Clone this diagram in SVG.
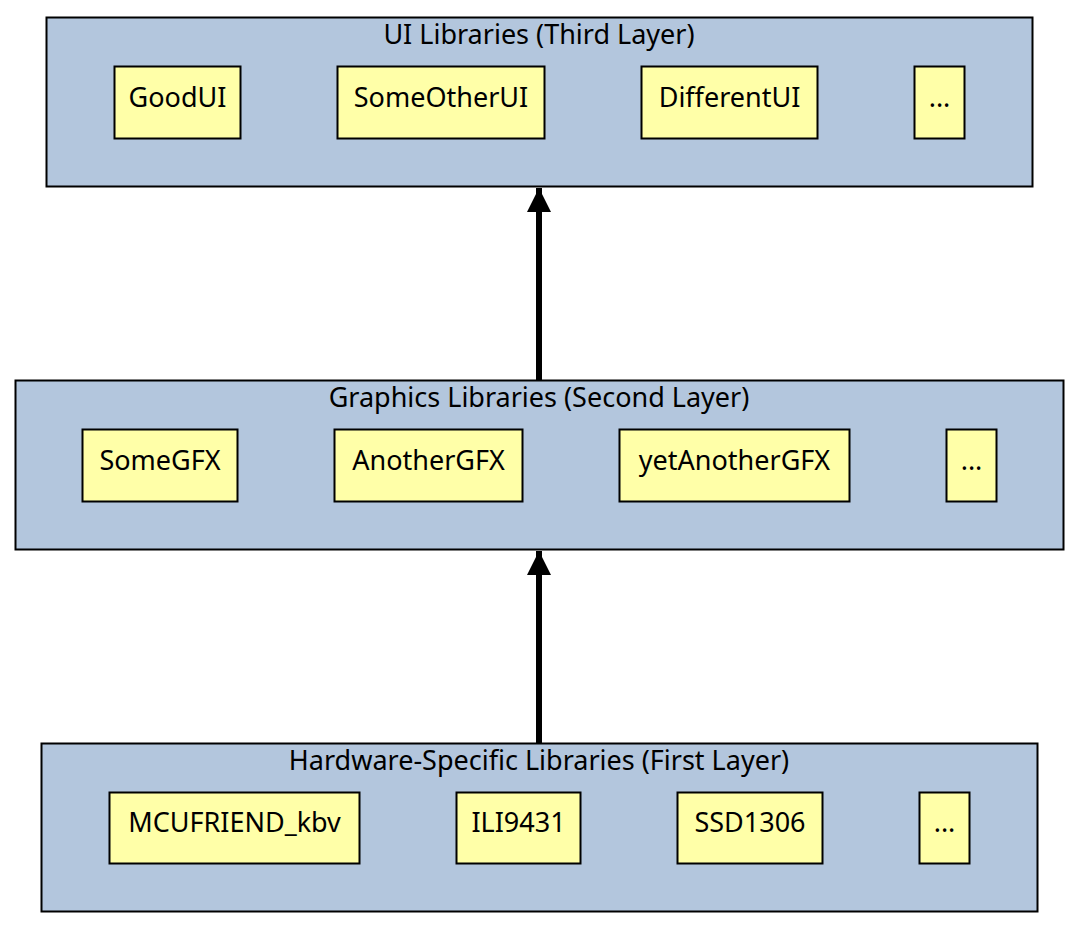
<svg xmlns="http://www.w3.org/2000/svg" width="1080" height="931" viewBox="0 0 1080 931">
<style>
.layer{fill:#b3c6dd;stroke:#000;stroke-width:2}
.node{fill:#ffffa8;stroke:#000;stroke-width:2}
text{font-family:"Noto Sans","Open Sans",sans-serif;font-size:27px;fill:#000;text-anchor:middle}
.conn{stroke:#000;stroke-width:6;fill:none}
</style>
<defs>
<marker id="ah" markerUnits="userSpaceOnUse" markerWidth="26" markerHeight="26" refX="24" refY="12" orient="auto">
<path d="M0,0 L24,12 L0,24 Z" fill="#000"/>
</marker>
</defs>
<rect width="1080" height="931" fill="#fff"/>
<g id="layer3">
<rect class="layer" x="46.5" y="17.5" width="986" height="169"/>
<text x="539" y="44">UI Libraries (Third Layer)</text>
</g>
<g id="goodui"><rect class="node" x="114.5" y="66.5" width="126" height="72"/><text x="177.5" y="107">GoodUI</text></g>
<g id="someotherui"><rect class="node" x="337.5" y="66.5" width="207" height="72"/><text x="441" y="107">SomeOtherUI</text></g>
<g id="differentui"><rect class="node" x="641.5" y="66.5" width="176" height="72"/><text x="729.5" y="107">DifferentUI</text></g>
<g id="ui-more"><rect class="node" x="914.5" y="66.5" width="50" height="72"/><text x="939.5" y="107">...</text></g>
<g id="layer2">
<rect class="layer" x="15.5" y="380.5" width="1048" height="169"/>
<text x="539" y="407">Graphics Libraries (Second Layer)</text>
</g>
<g id="somegfx"><rect class="node" x="82.5" y="429.5" width="155" height="72"/><text x="160" y="470">SomeGFX</text></g>
<g id="anothergfx"><rect class="node" x="334.5" y="429.5" width="188" height="72"/><text x="428.5" y="470">AnotherGFX</text></g>
<g id="yetanothergfx"><rect class="node" x="619.5" y="429.5" width="230" height="72"/><text x="734.5" y="470">yetAnotherGFX</text></g>
<g id="gfx-more"><rect class="node" x="946.5" y="429.5" width="50" height="72"/><text x="971.5" y="470">...</text></g>
<g id="layer1">
<rect class="layer" x="41.5" y="743.5" width="996" height="168"/>
<text x="539" y="770">Hardware-Specific Libraries (First Layer)</text>
</g>
<g id="mcufriend"><rect class="node" x="109.5" y="792.5" width="250" height="71"/><text x="234.5" y="832">MCUFRIEND_kbv</text></g>
<g id="ili9431"><rect class="node" x="456.5" y="792.5" width="124" height="71"/><text x="518.5" y="832">ILI9431</text></g>
<g id="ssd1306"><rect class="node" x="677.5" y="792.5" width="145" height="71"/><text x="750" y="832">SSD1306</text></g>
<g id="hw-more"><rect class="node" x="919.5" y="792.5" width="50" height="71"/><text x="944.5" y="832">...</text></g>
<g id="connectors">
<line class="conn" x1="539" y1="380" x2="539" y2="188" marker-end="url(#ah)"/>
<line class="conn" x1="539" y1="743" x2="539" y2="551" marker-end="url(#ah)"/>
</g>
</svg>
